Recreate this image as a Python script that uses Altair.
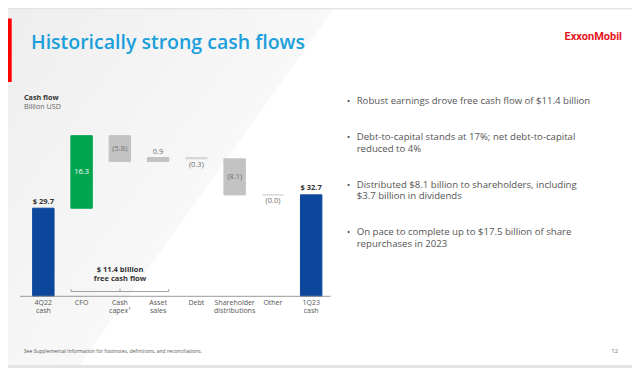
import altair as alt
import pandas as pd

# ---------------- data ----------------
categories = ["4Q22 cash", "CFO", "Cash capex", "Asset sales", "Debt",
              "Shareholder distributions", "Other", "1Q23 cash"]
axis_labels = ["4Q22\ncash", "CFO", "Cash\ncapex¹", "Asset\nsales", "Debt",
               "Shareholder\ndistributions", "Other", "1Q23\ncash"]
values = [29.7, 16.3, -5.8, 0.9, -0.3, -8.1, -0.0, 32.7]
value_labels = ["$ 29.7", "16.3", "(5.8)", "0.9", "(0.3)", "(8.1)", "(0.0)", "$ 32.7"]
bar_kinds = ["total", "cfo", "flow", "flow", "thin", "flow", "thin", "total"]
label_places = ["above", "mid", "mid", "above", "below", "mid", "below", "above"]

bullets = [
    "Robust earnings drove free cash flow of $11.4 billion",
    "Debt-to-capital stands at 17%; net debt-to-capital\nreduced to 4%",
    "Distributed $8.1 billion to shareholders, including\n$3.7 billion in dividends",
    "On pace to complete up to $17.5 billion of share\nrepurchases in 2023",
]

AXIS_MIN = 9.9
AXIS_MAX = 46.0

# waterfall geometry from values
rows = []
running = 0.0
for cat, lab, v, vl, k, p in zip(categories, axis_labels, values, value_labels,
                                 bar_kinds, label_places):
    if k == "total":
        start, end = AXIS_MIN, v
        running = v
    else:
        start, end = running, running + v
        running = end
    rows.append(dict(cat=cat, axlab=lab, start=start, end=end, label=vl, kind=k,
                     place=p, top=max(start, end), bottom=min(start, end),
                     mid=(start + end) / 2))
df = pd.DataFrame(rows)

FONT = "Open Sans"
W, H = 624, 360

xscale = alt.Scale(domain=categories, range=[16.2, 322.3], paddingInner=0.44,
                   paddingOuter=0.22)
yscale = alt.Scale(domain=[AXIS_MIN, AXIS_MAX], range=[288.3, 127.7], zero=False,
                   nice=False)
X = alt.X("cat:N", scale=xscale, axis=None)

color_scale = alt.Scale(domain=["total", "cfo", "flow", "thin"],
                        range=["#0d479c", "#00a550", "#c3c3c3", "#d6d6d6"])

base = alt.Chart(df)

bars = base.mark_bar(strokeWidth=1).encode(
    x=X,
    y=alt.Y("start:Q", scale=yscale, axis=None),
    y2="end:Q",
    color=alt.Color("kind:N", scale=color_scale, legend=None),
    stroke=alt.Stroke("kind:N", scale=color_scale, legend=None),
)

cash_labels = base.transform_filter("datum.kind == 'total'").mark_text(
    font=FONT, fontSize=7.5, fontWeight="bold", color="#333333", dy=-6.5,
    baseline="middle").encode(x=X, y=alt.Y("top:Q", scale=yscale), text="label:N")

mid_labels = base.transform_filter("datum.place == 'mid'").mark_text(
    font=FONT, fontSize=7.5, baseline="middle").encode(
    x=X, y=alt.Y("mid:Q", scale=yscale), text="label:N",
    color=alt.Color("kind:N", scale=alt.Scale(domain=["cfo", "flow"],
                                              range=["#ffffff", "#6e6e6e"]),
                    legend=None))

above_labels = base.transform_filter(
    "datum.place == 'above' && datum.kind != 'total'").mark_text(
    font=FONT, fontSize=7.5, color="#6e6e6e", dy=-5.8, baseline="middle").encode(
    x=X, y=alt.Y("top:Q", scale=yscale), text="label:N")

below_labels = base.transform_filter("datum.place == 'below'").mark_text(
    font=FONT, fontSize=7.5, color="#6e6e6e", dy=6.2, baseline="middle").encode(
    x=X, y=alt.Y("bottom:Q", scale=yscale), text="label:N")

cat_labels = base.mark_text(font=FONT, fontSize=7, color="#555555", lineBreak="\n",
                            baseline="top", lineHeight=8.2).encode(
    x=X, y=alt.value(290.6), text="axlab:N")

one = pd.DataFrame({"base": [AXIS_MIN]})
baseline_rule = alt.Chart(one).mark_rule(color="#9a9a9a", strokeWidth=1).encode(
    y=alt.Y("base:Q", scale=yscale), x=alt.value(12), x2=alt.value(322.5))


def txt(text, x, y, size, color, weight="normal", align="left", font=FONT,
        baseline="middle", line_height=None):
    kw = dict(font=font, fontSize=size, color=color, fontWeight=weight, align=align,
              baseline=baseline, lineBreak="\n")
    if line_height:
        kw["lineHeight"] = line_height
    return alt.Chart(pd.DataFrame({"t": [text]})).mark_text(**kw).encode(
        x=alt.value(x), y=alt.value(y), text="t:N")


def rule(x1, y1, x2, y2, color="#8a8a8a", w=0.8):
    return alt.Chart(pd.DataFrame({"a": [0]})).mark_rule(
        color=color, strokeWidth=w).encode(
        x=alt.value(x1), y=alt.value(y1), x2=alt.value(x2), y2=alt.value(y2))


def rect(x1, y1, x2, y2, color):
    return alt.Chart(pd.DataFrame({"a": [0]})).mark_rect(color=color).encode(
        x=alt.value(x1), x2=alt.value(x2), y=alt.value(y1), y2=alt.value(y2))


# slide background with a soft diagonal shading on the left
shade = alt.Chart(pd.DataFrame({"a": [0]})).mark_rect(
    color=alt.LinearGradient(
        gradient="linear", x1=0, y1=0, x2=1, y2=0.407,
        stops=[alt.GradientStop(color="#eeeeee", offset=0),
               alt.GradientStop(color="#f8f8f8", offset=0.446),
               alt.GradientStop(color="#ffffff", offset=0.449),
               alt.GradientStop(color="#ffffff", offset=1)])
).encode(x=alt.value(0), x2=alt.value(W), y=alt.value(1.5), y2=alt.value(357))

edge_top = rect(0, 0, W, 1.5, "#e4e4e4")
edge_bottom = rect(0, 357, W, H, "#e4e4e4")

# bracket for free cash flow
bracket = [
    rule(63, 283.5, 160.7, 283.5),
    rule(63, 281, 63, 283.5),
    rule(160.7, 281, 160.7, 283.5),
    rule(112, 280.5, 112, 283.5),
]
fcf_text = txt("$ 11.4 billion\nfree cash flow", 112, 262, 7.5, "#333333",
               weight="bold", align="center", line_height=9.3)

red_bar = rect(0, 10.5, 3.7, 74, "#ff0000")

title = txt("Historically strong cash flows", 23, 40.5, 19.5, "#1a9fdb",
            weight=600, baseline="alphabetic")
logo = txt("ExxonMobil", 614, 29, 11, "#e8141c", weight="bold", align="right",
           font="Roboto")
sub1 = txt("Cash flow", 16, 90.0, 7.2, "#333333", weight="bold")
sub2 = txt("Billion USD", 16, 98.9, 7.2, "#666666")

bullet_layers = []
bullet_y = [92.7, 129.3, 176.7, 224.0]
for b, yy in zip(bullets, bullet_y):
    bullet_layers.append(txt("•", 338.7, yy, 9.5, "#555555", baseline="middle"))
    bullet_layers.append(txt(b, 348.7, yy, 9.6, "#555555", baseline="middle",
                             line_height=11.6))

footnote = txt("See Supplemental Information for footnotes, definitions, and reconciliations.",
               16, 342.7, 5, "#555555")
page_no = txt("12", 610, 342.7, 6, "#777777", align="right")

chart = alt.layer(
    shade, edge_top, edge_bottom, red_bar, bars, baseline_rule, cash_labels,
    mid_labels, above_labels, below_labels, cat_labels, *bracket, fcf_text, title,
    logo, sub1, sub2, *bullet_layers, footnote, page_no,
).resolve_scale(color="independent", stroke="independent").properties(
    width=W, height=H, padding=0, autosize=alt.AutoSizeParams(type="none"),
    background="#ffffff",
).configure_view(stroke=None)

chart.save("out.html", embed_options={"renderer": "svg", "actions": False})
